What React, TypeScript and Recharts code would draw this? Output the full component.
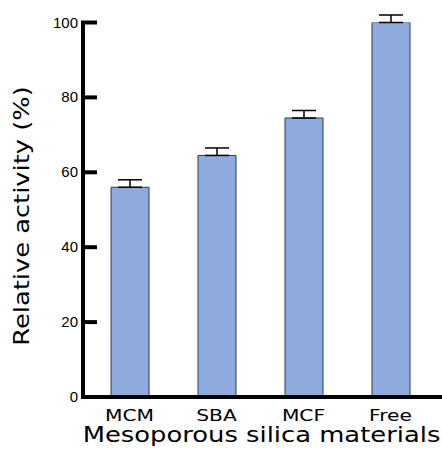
import React from "react";
import { BarChart, Bar, XAxis, YAxis, ErrorBar } from "recharts";

const categories = ["MCM", "SBA", "MCF", "Free"];
const activity = [56, 64.5, 74.5, 100];
const upperError = [2, 2, 2, 2];
const yTicks = [0, 20, 40, 60, 80, 100];
const xTitle = "Mesoporous silica materials";
const yTitle = "Relative activity (%)";

const data = categories.map((name, i) => ({
	name,
	activity: activity[i],
	err: [0, upperError[i]],
}));

const labelFont = "'DejaVu Sans', sans-serif";

// x is the label anchor, 5px left of the axis line; the tick mark points inward
const YTick = (props: any) => {
	const { x, y, payload } = props;
	return (
		<g>
			<line
				x1={x + 3}
				x2={x + 19}
				y1={y}
				y2={y}
				stroke="#000"
				strokeWidth={4}
			/>
			<text
				x={x}
				y={y + 5}
				textAnchor="end"
				fontSize={15}
				fontFamily="'Liberation Sans', Arial, sans-serif"
				fill="#000"
			>
				{payload.value}
			</text>
		</g>
	);
};

const XTick = (props: any) => {
	const { x, y, payload } = props;
	return (
		<text
			transform={`translate(${x},${y + 24}) scale(1.35,1)`}
			textAnchor="middle"
			fontSize={15}
			fontFamily={labelFont}
			fill="#000"
		>
			{payload.value}
		</text>
	);
};

export default function App() {
	return (
		<div
			style={{
				position: "absolute",
				left: 0,
				top: 0,
				width: 442,
				height: 450,
				background: "#fff",
			}}
		>
			<BarChart
				width={442}
				height={450}
				data={data}
				margin={{ top: 22.5, right: 0, left: 0, bottom: 0 }}
			>
				<XAxis
					dataKey="name"
					interval={0}
					height={53}
					padding={{ left: 3, right: 8 }}
					axisLine={{ stroke: "#000", strokeWidth: 4 }}
					tickLine={false}
					tickSize={0}
					tickMargin={0}
					tick={<XTick />}
				/>
				<YAxis
					type="number"
					domain={[0, 100]}
					allowDataOverflow
					ticks={yTicks}
					width={83}
					axisLine={{ stroke: "#000", strokeWidth: 4 }}
					tickLine={false}
					tickSize={-14}
					tickMargin={19}
					tick={<YTick />}
				/>
				<Bar
					dataKey="activity"
					barSize={38}
					fill="#8faadc"
					stroke="#2b3a55"
					strokeWidth={1}
					isAnimationActive={false}
				>
					<ErrorBar
						dataKey="err"
						width={12}
						stroke="#000"
						strokeWidth={1.5}
						direction="y"
					/>
				</Bar>
			</BarChart>
			<svg
				width={442}
				height={450}
				style={{ position: "absolute", left: 0, top: 0, pointerEvents: "none" }}
			>
				<text
					transform="translate(261.5,442) scale(1.26,1)"
					textAnchor="middle"
					fontSize={20.5}
					fontFamily={labelFont}
					fill="#000"
				>
					{xTitle}
				</text>
				<text
					transform="translate(29,216) rotate(-90) scale(1.17,1)"
					textAnchor="middle"
					fontSize={22}
					fontFamily={labelFont}
					fill="#000"
				>
					{yTitle}
				</text>
			</svg>
		</div>
	);
}
